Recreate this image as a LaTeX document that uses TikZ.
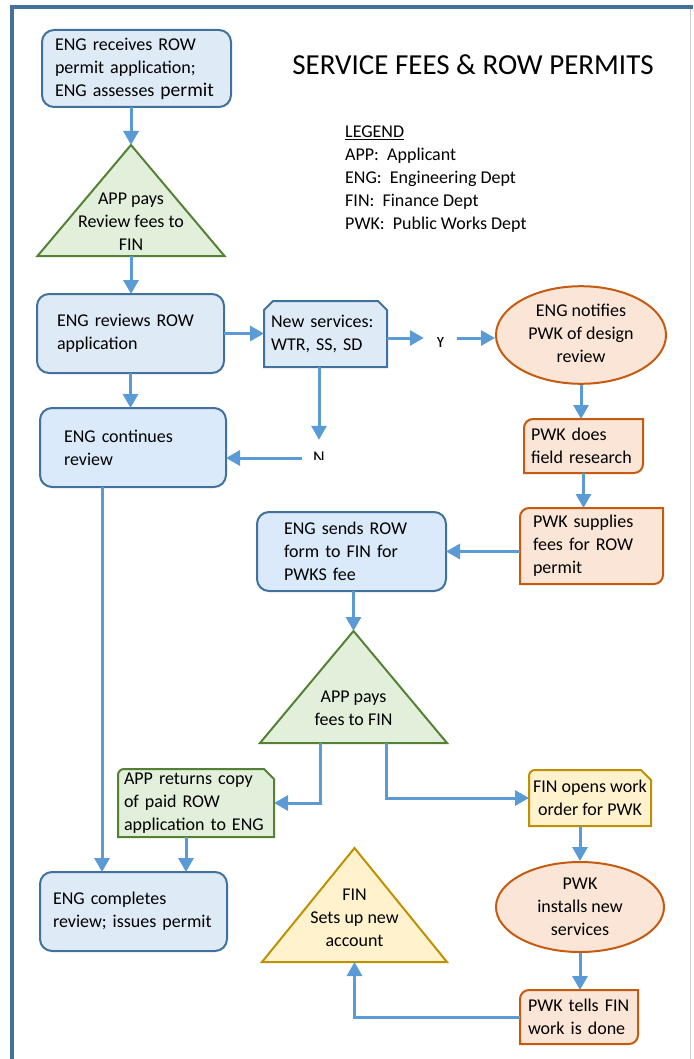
\documentclass[tikz,border=0pt]{standalone}
\usepackage{fontspec}
\setmainfont{Carlito}
\usepackage{tikz}
\usetikzlibrary{arrows.meta}
\usetikzlibrary{shapes.geometric}
\usetikzlibrary{backgrounds}
\usepackage{xcolor}
\definecolor{engline}{HTML}{41719C}
\definecolor{engfill}{HTML}{DEEBF7}
\definecolor{englight}{HTML}{DAEAFA}
\definecolor{appline}{HTML}{548235}
\definecolor{appfill}{HTML}{E2EFDA}
\definecolor{pwkline}{HTML}{C55A11}
\definecolor{pwkfill}{HTML}{FBE5D6}
\definecolor{finline}{HTML}{BF9000}
\definecolor{finfill}{HTML}{FFF2CC}
\definecolor{flowblue}{HTML}{5B9BD5}

\newcommand{\bodysize}{\fontsize{18}{23}\selectfont}

% frames for the box shapes TikZ has no node shape for
\newcommand{\triframe}[2]{%
  \draw[#2] (#1.south west) -- (#1.north) -- (#1.south east) -- cycle;}
\newcommand{\diagframe}[2]{%
  \draw[#2] ([yshift=-9pt]#1.north west) arc[start angle=180, end angle=90, radius=9pt]
    -- (#1.north east) -- ([yshift=9pt]#1.south east)
    arc[start angle=0, end angle=-90, radius=9pt] -- (#1.south west) -- cycle;}
\newcommand{\snipframe}[2]{%
  \draw[#2] (#1.south west) -- ([yshift=-6pt]#1.north west)
    arc[start angle=180, end angle=90, radius=6pt]
    -- ([xshift=-10pt]#1.north east) -- ([yshift=-10pt]#1.north east)
    -- (#1.south east) -- cycle;}
\newcommand{\snipsides}[2]{%
  \draw[#2] (#1.south west) -- ([yshift=-9pt]#1.north west) -- ([xshift=9pt]#1.north west)
    -- ([xshift=-9pt]#1.north east) -- ([yshift=-9pt]#1.north east)
    -- (#1.south east) -- cycle;}

\begin{document}
\begin{tikzpicture}[x=1pt, y=1pt,
    box/.style={rectangle, font=\bodysize, align=left, outer sep=0pt, inner ysep=2pt},
    engbox/.style={box, draw=engline, fill=engfill, line width=2pt,
      rounded corners=12pt},
    ellbox/.style={ellipse, font=\bodysize, align=center, inner sep=0pt,
      draw=pwkline, fill=pwkfill, line width=2pt},
    tribox/.style={rectangle, outer sep=0pt, inner sep=0pt},
    tritext/.style={font=\bodysize, align=center, inner sep=0pt},
    engframe/.style={draw=engline, fill=engfill, line width=2pt},
    appframe/.style={draw=appline, fill=appfill, line width=2pt},
    pwkframe/.style={draw=pwkline, fill=pwkfill, line width=2pt},
    finframe/.style={draw=finline, fill=finfill, line width=2pt},
    yn/.style={font=\bodysize, inner sep=0pt},
    flow/.style={draw=flowblue, line width=3pt,
      -{Triangle[length=14pt, width=15pt]}},
  ]

  \useasboundingbox (0,0) rectangle (693,-1059);

  % Page frame
  \draw[black!18, line width=1pt] (690,-7) -- (690,-1059);
  \draw[engline, line width=4pt] (693,-7) -- (12,-7) -- (12,-1059);

  % Title and legend
  \node[font=\fontsize{29}{34}\selectfont] (title) at (473,-65)
    {SERVICE FEES \& ROW PERMITS};
  \node[font=\bodysize, align=left, inner sep=0pt, anchor=north west]
    (legend) at (345,-126)
    {\underline{LEGEND}\\APP:\ \ Applicant\\ENG:\ \ Engineering Dept\\
     FIN:\ \ Finance Dept\\PWK:\ \ Public Works Dept};

  % Review stage
  \node[engbox, minimum width=189pt, minimum height=77pt, inner xsep=13pt,
    text width=163pt] (recv) at (136.5,-68.5)
    {ENG receives ROW\\permit application;\\ENG assesses
     {\fontsize{19.5}{23}\selectfont permit}};
  \node[tribox, minimum width=187pt, minimum height=111pt,
    label={[tritext, yshift=-21.5pt]center:{APP pays\\Review fees to\\FIN}}]
    (payrev) at (131,-200.5) {};
  \node[engbox, minimum width=187pt, minimum height=79pt, inner xsep=20pt,
    text width=147pt] (review) at (130.5,-333.5) {ENG reviews ROW\\application};
  \node[engbox, fill=englight, minimum width=186pt, minimum height=79pt,
    inner xsep=24pt, text width=138pt] (contin) at (133,-447.5)
    {ENG continues\\review};
  \node[box, minimum width=123pt, minimum height=66pt, inner xsep=7pt,
    text width=109pt] (newsvc) at (325.5,-334) {New services:\\WTR, SS, SD};

  % Y / N answers
  \begin{scope}
    \clip (420,-337) rectangle (460,-360);
    \node[yn, minimum width=33pt, minimum height=20pt] (yes) at (440.5,-338)
      {\raisebox{-4pt}[11.6pt][0pt]{Y}};
  \end{scope}
  \begin{scope}
    \clip (300,-440) rectangle (340,-459.5);
    \node[yn, minimum width=34pt, minimum height=36pt] (no) at (319,-458) {N};
  \end{scope}

  % Public works design review
  \node[ellbox, minimum width=170pt, minimum height=90pt] (notify) at (581,-335)
    {\raisebox{-4pt}{\begin{tabular}{@{}c@{}}ENG notifies\\PWK of design\\review\end{tabular}}};
  \node[box, minimum width=119pt, minimum height=54pt, inner xsep=7pt,
    text width=105pt] (field) at (583.5,-446) {PWK does\\field research};
  \node[box, minimum width=143pt, minimum height=76pt, inner xsep=13pt,
    text width=117pt] (supply) at (591.5,-546)
    {PWK supplies\\fees for ROW\\permit};
  \node[engbox, fill=englight, minimum width=189pt, minimum height=79pt,
    inner xsep=27pt, text width=135pt] (sends) at (351.5,-551.5)
    {ENG sends ROW\\form to FIN for\\PWKS fee};
  \node[tribox, minimum width=187pt, minimum height=112pt,
    label={[tritext, yshift=-21pt]center:{APP pays\\fees to FIN}}]
    (pay2) at (353.5,-687) {};

  % Payment and completion
  \node[box, minimum width=156pt, minimum height=68pt, inner xsep=6pt,
    text width=144pt] (copy) at (196,-803)
    {APP returns copy\\of paid ROW\\application to ENG};
  \node[box, align=center, minimum width=122pt, minimum height=56pt,
    inner xsep=2pt] (finwo) at (590,-798) {FIN opens work\\order for PWK};
  \node[engbox, minimum width=187pt, minimum height=79pt, inner xsep=13pt,
    text width=161pt] (done) at (133.5,-911.5)
    {ENG completes\\review; issues permit};
  \node[tribox, minimum width=185pt, minimum height=114pt,
    label={[tritext, yshift=-13pt]center:{FIN\\Sets up new\\account}}]
    (acct) at (354.5,-905) {};
  \node[ellbox, minimum width=168pt, minimum height=90pt] (install) at (580,-907)
    {PWK\\installs new\\services};
  \node[box, minimum width=118pt, minimum height=54pt, inner xsep=8pt,
    text width=102pt] (told) at (579,-1017) {PWK tells FIN\\work is done};

  % Frames behind the odd shapes
  \begin{scope}[on background layer]
    \triframe{payrev}{appframe}
    \triframe{pay2}{appframe}
    \triframe{acct}{finframe}
    \snipsides{newsvc}{engframe}
    \diagframe{field}{pwkframe}
    \diagframe{supply}{pwkframe}
    \diagframe{told}{pwkframe}
    \snipframe{copy}{appframe}
    \snipframe{finwo}{finframe}
  \end{scope}

  % Connectors
  \draw[flow] (payrev.north |- recv.south) -- (payrev.north);
  \draw[flow] (payrev.south) -- (payrev.south |- review.north);
  \draw[flow] (review.east) -- (review.east -| newsvc.west);
  \draw[flow] (review.south) -- (review.south |- contin.north);
  \draw[flow] (yes.west -| newsvc.east) -- (yes.west);
  \draw[flow] (yes.east) -- (yes.east -| notify.west);
  \draw[flow] (no.north |- newsvc.south) -- (no.north);
  \draw[flow] (no.west) -- (no.west -| contin.east);
  \draw[flow] (notify.south) -- (notify.south |- field.north);
  \draw[flow] (field.south) -- (field.south |- supply.north);
  \draw[flow] (sends.east -| supply.west) -- (sends.east);
  \draw[flow] (pay2.north |- sends.south) -- (pay2.north);
  \draw[flow] ([xshift=-33pt]pay2.south) |- (copy.east);
  \draw[flow] ([xshift=33pt]pay2.south) |- (finwo.west);
  \draw[flow] ([xshift=-10pt]copy.south) -- ([xshift=-10pt]copy.south |- done.north);
  \draw[flow] ([xshift=-31pt]contin.south) -- ([xshift=-31pt]contin.south |- done.north);
  \draw[flow] (install.north |- finwo.south) -- (install.north);
  \draw[flow] (install.south) -- (install.south |- told.north);
  \draw[flow] (told.west) -| (acct.south);

\end{tikzpicture}
\end{document}
